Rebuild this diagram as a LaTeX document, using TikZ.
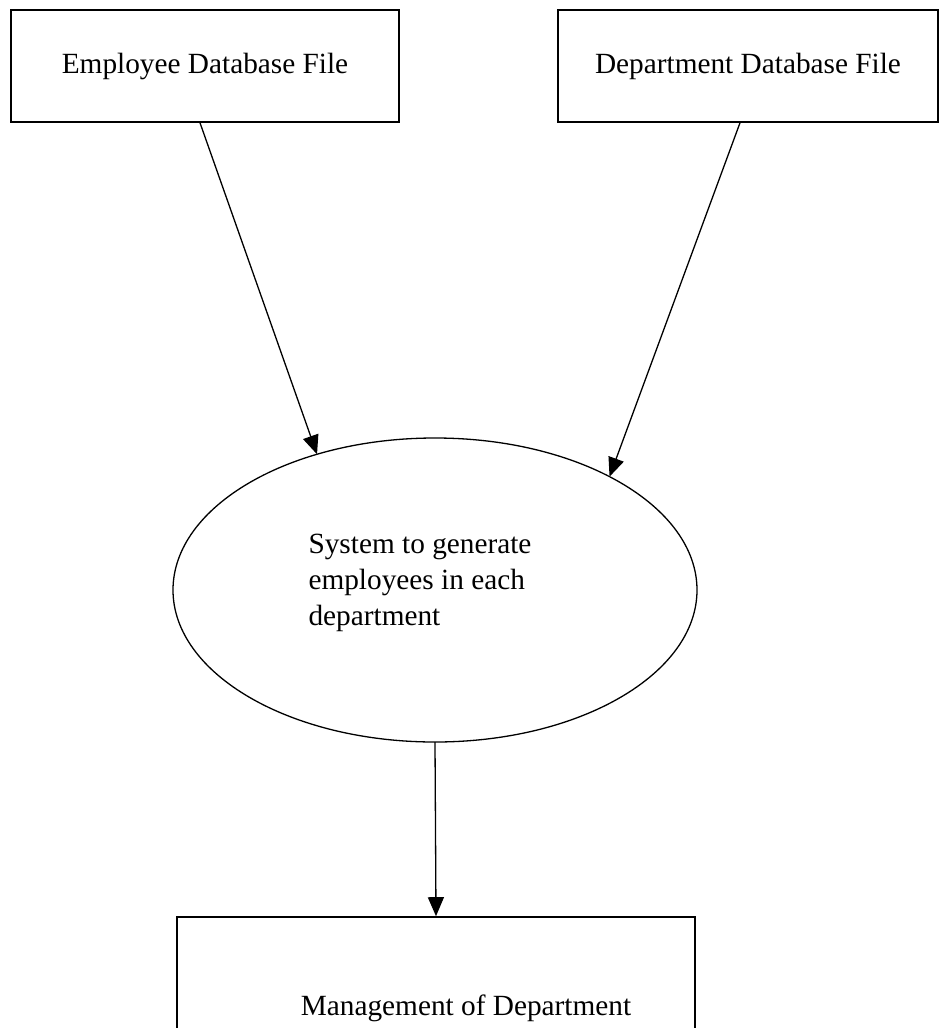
\documentclass[tikz,border=0pt]{standalone}
\usepackage{fontspec}
\setmainfont{Liberation Serif}
\usetikzlibrary{shapes.geometric,arrows.meta}
\begin{document}
\begin{tikzpicture}[x=1pt,y=-1pt,
  lbl/.style={font=\fontsize{29.3}{36}\selectfont},
  filebox/.style={draw,line width=1.6pt,inner sep=0pt,lbl},
  arr/.style={line width=1.3pt,-{Triangle[length=19pt,width=16pt]}}]
\clip (0,0) rectangle (942,1028);
\node[filebox,minimum width=388,minimum height=112] (emp) at (205,66) {Employee Database File};
\node[filebox,minimum width=380,minimum height=112] (dep) at (748,66) {Department Database File};
\node[draw,ellipse,line width=1.3pt,inner sep=0pt,outer sep=0pt,minimum width=524,minimum height=304] (sys) at (435,590) {};
\node[lbl,align=left,inner sep=0pt] (systxt) at (420,583) {System to generate\\employees in each\\department};
\node[filebox,minimum width=518,minimum height=182] (mgmt) at (436,1008) {};
\node[lbl,inner sep=0pt] (mgmttxt) at (466,1008) {Management of Department};
\draw[arr] ([xshift=-5pt]emp.south) -- (sys.131.6);
\draw[arr] ([xshift=-8pt]dep.south) -- (sys.33.7);
\draw[arr] (sys.south) -- (mgmt.north);
\end{tikzpicture}
\end{document}
